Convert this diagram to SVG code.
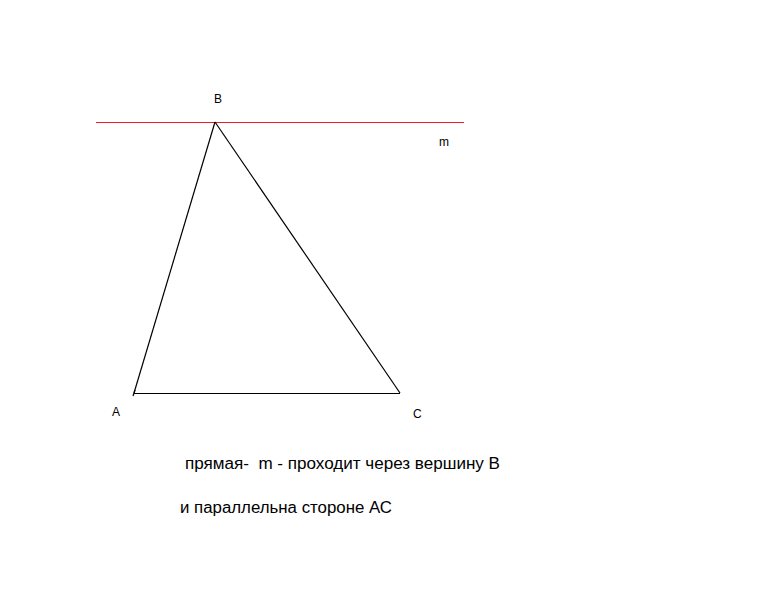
<svg xmlns="http://www.w3.org/2000/svg" width="768" height="614" viewBox="0 0 768 614">
<style>
.lbl{font-family:"Liberation Sans","DejaVu Sans",sans-serif;font-size:12px;fill:#000}
.txt{font-family:"Liberation Sans","DejaVu Sans",sans-serif;font-size:16px;fill:#000}
.side{stroke:#000;stroke-width:1.2;fill:none}
</style>
<rect width="768" height="614" fill="#fff"/>
<g id="connectors">
<line id="line-m" x1="96" y1="122.5" x2="464" y2="122.5" stroke="#ed1c24" stroke-width="1" shape-rendering="crispEdges"/>
<line class="side" x1="215" y1="122" x2="134" y2="393"/>
<line class="side" x1="215" y1="122" x2="400" y2="393"/>
<line class="side" x1="134" y1="393.5" x2="400" y2="393.5" stroke-width="1" shape-rendering="crispEdges"/>
<line class="side" x1="133" y1="396" x2="135" y2="390"/>
</g>
<g id="node-B"><text class="lbl" x="214" y="103">B</text></g>
<g id="node-m"><text class="lbl" x="439" y="146">m</text></g>
<g id="node-A"><text class="lbl" x="112" y="416">A</text></g>
<g id="node-C"><text class="lbl" x="413" y="418">C</text></g>
<g id="caption">
<text class="txt" x="185" y="469" textLength="315" lengthAdjust="spacingAndGlyphs" xml:space="preserve">прямая-  m - проходит через вершину В</text>
<text class="txt" x="180" y="513" textLength="212" lengthAdjust="spacingAndGlyphs">и параллельна стороне АС</text>
</g>
</svg>
